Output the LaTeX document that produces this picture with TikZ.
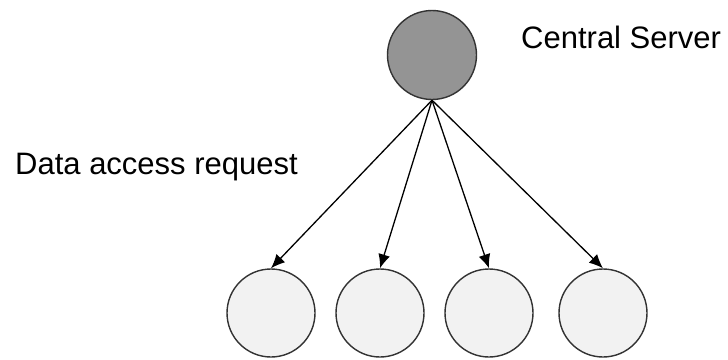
\documentclass[tikz,border=0pt]{standalone}
\usepackage{fontspec}
\setmainfont{Liberation Sans}
\usetikzlibrary{arrows.meta}
\begin{document}
\begin{tikzpicture}[x=1pt,y=-1pt,
	server/.style={circle, draw=black!80, line width=1.4pt, fill=black!42, minimum size=89pt, inner sep=0pt},
	client/.style={circle, draw=black!80, line width=1.4pt, fill=black!5, minimum size=88pt, inner sep=0pt},
	nametext/.style={anchor=west, inner sep=0pt, font=\fontsize{31}{37}\selectfont},
	request/.style={-{Latex[length=14pt,width=12pt]}, line width=1.3pt}]
	\useasboundingbox (0,0) rectangle (728,359);
	
	\node[server] (srv) at (432,55) {};
	\node[nametext] (srvname) at (521,37) {Central Server};
	\node[nametext] (reqname) at (15,167) {Data access request};
	
	\node[client] (c1) at (271,313) {};
	\node[client] (c2) at (380,313) {};
	\node[client] (c3) at (489,313) {};
	\node[client] (c4) at (603,313) {};
	
	\draw[request] (srv.south) -- (c1.north);
	\draw[request] (srv.south) -- (c2.north);
	\draw[request] (srv.south) -- (c3.north);
	\draw[request] (srv.south) -- (c4.north);
\end{tikzpicture}
\end{document}
